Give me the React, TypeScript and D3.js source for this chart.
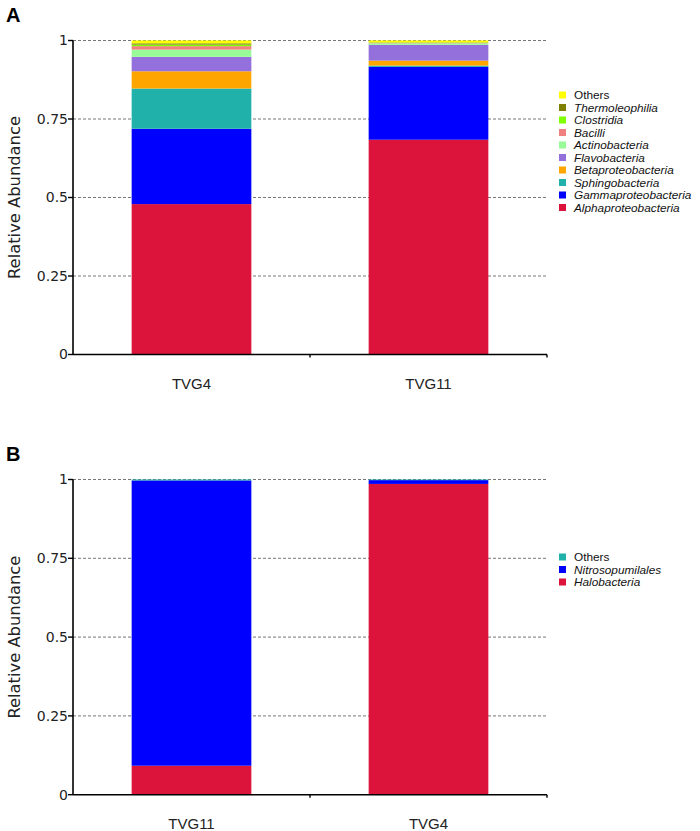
import React from "react";
import * as d3 from "d3";

const samplesA = ["TVG4", "TVG11"];
const taxaA = [
  "Alphaproteobacteria",
  "Gammaproteobacteria",
  "Sphingobacteria",
  "Betaproteobacteria",
  "Flavobacteria",
  "Actinobacteria",
  "Bacilli",
  "Clostridia",
  "Thermoleophilia",
  "Others",
];
const colorsA = ["#DC143C", "#0000FF", "#20B2AA", "#FFA500", "#9370DB", "#98FB98", "#F08080", "#7FFF00", "#808000", "#FFFF00"];
const valuesA_TVG4 = [0.479, 0.24, 0.128, 0.055, 0.046, 0.023, 0.011, 0.005, 0.004, 0.009];
const valuesA_TVG11 = [0.684, 0.232, 0.004, 0.016, 0.05, 0.005, 0.001, 0.001, 0.001, 0.006];

const samplesB = ["TVG11", "TVG4"];
const taxaB = ["Halobacteria", "Nitrosopumilales", "Others"];
const colorsB = ["#DC143C", "#0000FF", "#20B2AA"];
const valuesB_TVG11 = [0.092, 0.905, 0.003];
const valuesB_TVG4 = [0.986, 0.012, 0.002];

const yTicks = [0, 0.25, 0.5, 0.75, 1];
const yTickLabels = ["0", "0.25", "0.5", "0.75", "1"];

const italicA = [true, true, true, true, true, true, true, true, true, false];
const italicB = [true, true, false];

type PanelProps = {
  top: number;
  bottom: number;
  label: string;
  samples: string[];
  taxa: string[];
  colors: string[];
  values: number[][];
  italic: boolean[];
  legendTop: number;
};

const x0 = 73;
const x1 = 547;
const tickFont = "'DejaVu Sans', sans-serif";
const txtFont = "'Liberation Sans', Arial, sans-serif";

function Panel({ top, bottom, label, samples, taxa, colors, values, italic, legendTop }: PanelProps) {
  const y = d3.scaleLinear().domain([0, 1]).range([bottom, top]);
  const x = d3.scaleBand().domain(samples).range([x0, x1]).paddingInner(0).paddingOuter(0);
  const barW = x.bandwidth() * 0.505;
  const rows = samples.map((s, i) => {
    const obj: Record<string, any> = { sample: s };
    taxa.forEach((t, j) => (obj[t] = values[i][j]));
    return obj;
  });
  const stack = d3.stack<any>().keys(taxa)(rows);
  const legendOrder = taxa.map((t, i) => i).reverse();
  const rowH = 12.5;
  return (
    <g>
      <text x={6} y={top - 19} fontFamily={txtFont} fontWeight="bold" fontSize={20} fill="#000">
        {label}
      </text>
      {yTicks.slice(1).map((t) => (
        <line key={"g" + t} x1={x0} x2={x1} y1={y(t)} y2={y(t)} stroke="#666" strokeWidth={0.9} strokeDasharray="3,2" />
      ))}
      {stack.map((layer, li) =>
        layer.map((d, si) => (
          <rect
            key={li + "-" + si}
            x={(x(samples[si]) as number) + (x.bandwidth() - barW) / 2}
            y={y(d[1])}
            width={barW}
            height={Math.max(0, y(d[0]) - y(d[1]))}
            fill={colors[li]}
          />
        ))
      )}
      <line x1={x0} x2={x0} y1={y(1)} y2={y(0)} stroke="#000" strokeWidth={1.6} />
      <line x1={x0} x2={x1} y1={y(0)} y2={y(0)} stroke="#000" strokeWidth={1.6} />
      {yTicks.map((t, i) => (
        <g key={"t" + t}>
          <line x1={x0 - 5} x2={x0} y1={y(t)} y2={y(t)} stroke="#000" strokeWidth={1.4} />
          <text x={x0 - 5} y={y(t)} dy="0.35em" textAnchor="end" fontFamily={tickFont} fontSize={14} fill="#222">
            {yTickLabels[i]}
          </text>
        </g>
      ))}
      {[x0 + x.bandwidth(), x1].map((v, i) => (
        <line key={"xt" + i} x1={v} x2={v} y1={y(0)} y2={y(0) + 3} stroke="#000" strokeWidth={1.4} />
      ))}
      {samples.map((s) => (
        <text
          key={s}
          x={(x(s) as number) + x.bandwidth() / 2}
          y={y(0) + 34}
          textAnchor="middle"
          fontFamily={txtFont}
          fontSize={15}
          fill="#222"
        >
          {s}
        </text>
      ))}
      <text
        transform={`translate(20,${(y(0) + y(1)) / 2}) rotate(-90)`}
        textAnchor="middle"
        fontFamily={tickFont}
        fontSize={15}
        textLength={163}
        lengthAdjust="spacingAndGlyphs"
        fill="#222"
      >
        Relative Abundance
      </text>
      {legendOrder.map((idx, k) => (
        <g key={"l" + idx} transform={`translate(559,${legendTop + k * rowH})`}>
          <rect x={0} y={-3.5} width={7} height={7} fill={colors[idx]} />
          <text x={15} y={0} dy="0.36em" fontFamily={txtFont} fontSize={11.8} fontStyle={italic[idx] ? "italic" : "normal"} fill="#111">
            {taxa[idx]}
          </text>
        </g>
      ))}
    </g>
  );
}

export default function App() {
  return (
    <svg width={700} height={831} style={{ display: "block", position: "absolute", left: 0, top: 0, background: "#fff" }}>
      <rect width={700} height={831} fill="#fff" />
      <Panel
        top={40.5}
        bottom={354.5}
        label="A"
        samples={samplesA}
        taxa={taxaA}
        colors={colorsA}
        values={[valuesA_TVG4, valuesA_TVG11]}
        italic={italicA}
        legendTop={95}
      />
      <Panel
        top={479.5}
        bottom={794.7}
        label="B"
        samples={samplesB}
        taxa={taxaB}
        colors={colorsB}
        values={[valuesB_TVG11, valuesB_TVG4]}
        italic={italicB}
        legendTop={557}
      />
    </svg>
  );
}
